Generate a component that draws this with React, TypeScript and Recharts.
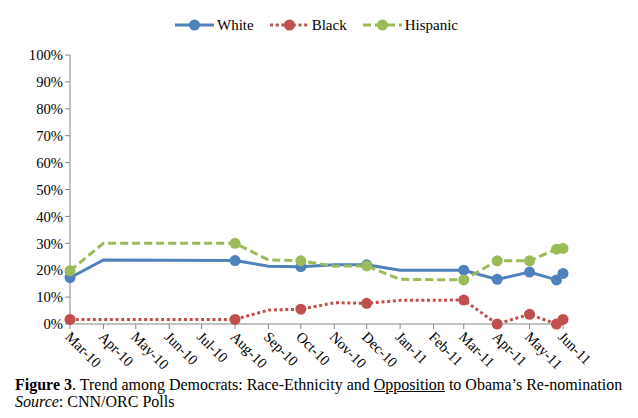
import React from "react";
import { LineChart, Line, XAxis, YAxis, Legend } from "recharts";

const pollDates = [
  "2010-03-01", "2010-04-01", "2010-08-01", "2010-09-01", "2010-10-01", "2010-11-01",
  "2010-12-01", "2011-01-01", "2011-03-01", "2011-04-01", "2011-05-01", "2011-05-26", "2011-06-01",
];
const hasMarker = [true, false, true, false, true, false, true, false, true, true, true, true, true];
const white = [17.2, 23.8, 23.6, 21.5, 21.3, 22, 22, 20, 20, 16.6, 19.3, 16.4, 18.8];
const black = [1.7, 1.7, 1.7, 5.2, 5.5, 7.9, 7.7, 8.8, 8.9, 0, 3.6, 0, 1.7];
const hispanic = [19.8, 30, 30, 23.8, 23.5, 21.5, 21.6, 16.6, 16.4, 23.5, 23.5, 27.8, 28.1];

const monthTicks = [
  "2010-03-01", "2010-04-01", "2010-05-01", "2010-06-01", "2010-07-01", "2010-08-01",
  "2010-09-01", "2010-10-01", "2010-11-01", "2010-12-01", "2011-01-01", "2011-02-01",
  "2011-03-01", "2011-04-01", "2011-05-01", "2011-06-01",
];
const monthLabels = [
  "Mar-10", "Apr-10", "May-10", "Jun-10", "Jul-10", "Aug-10", "Sep-10", "Oct-10",
  "Nov-10", "Dec-10", "Jan-11", "Feb-11", "Mar-11", "Apr-11", "May-11", "Jun-11",
];
const yTicks = [0, 10, 20, 30, 40, 50, 60, 70, 80, 90, 100];

const FONT = "'Liberation Serif', 'Times New Roman', serif";
const AXIS = "#868686";

const day = (s: string) => {
  const [y, m, d] = s.split("-").map(Number);
  return Date.UTC(y, m - 1, d) / 86400000;
};

const tickDays = monthTicks.map(day);

const data = pollDates.map((d, i) => ({
  t: day(d),
  marked: hasMarker[i],
  white: white[i],
  black: black[i],
  hispanic: hispanic[i],
}));

const series = [
  { key: "white", name: "White", color: "#4F81BD", dash: undefined as string | undefined },
  { key: "black", name: "Black", color: "#C0504D", dash: "3 2.7" },
  { key: "hispanic", name: "Hispanic", color: "#9BBB59", dash: "8 4" },
];

const makeDot = (color: string) => (props: any) => {
  const { cx, cy, payload, index } = props;
  if (!payload.marked) return <g key={`d${index}`} />;
  return <circle key={`d${index}`} cx={cx} cy={cy} r={5.5} fill={color} stroke="none" />;
};

const XTick = ({ x, y, payload }: any) => {
  const idx = tickDays.indexOf(payload.value);
  return (
    <g transform={`translate(${x - 2},${y + 3})`}>
      <text
        transform="rotate(45)"
        textAnchor="start"
        dy="0.35em"
        fontFamily={FONT}
        fontSize={14.67}
        fill="#000"
      >
        {monthLabels[idx]}
      </text>
    </g>
  );
};

const LegendContent = () => (
  <div style={{ display: "flex", justifyContent: "center", alignItems: "center", fontFamily: FONT, fontSize: 15, height: 20 }}>
    {series.map((s, i) => (
      <div key={s.key} style={{ display: "flex", alignItems: "center", marginLeft: i === 0 ? 0 : 16 }}>
        <svg width={39} height={12} style={{ marginRight: 3 }}>
          <line x1={0} y1={6} x2={39} y2={6} stroke={s.color} strokeWidth={3} strokeDasharray={s.dash} />
          <circle cx={19.5} cy={6} r={5.5} fill={s.color} />
        </svg>
        <span style={{ color: "#000" }}>{s.name}</span>
      </div>
    ))}
  </div>
);

export default function App() {
  return (
    <div style={{ position: "absolute", left: 0, top: 0, width: 638, height: 418, background: "#fff" }}>
      <LineChart width={638} height={380} data={data} margin={{ top: 15, right: 75, left: 0, bottom: 0 }}>
        <Legend verticalAlign="top" height={40} wrapperStyle={{ left: 70, width: 493 }} content={<LegendContent />} />
        <XAxis
          dataKey="t"
          type="number"
          domain={[tickDays[0], tickDays[tickDays.length - 1]]}
          ticks={tickDays}
          interval={0}
          height={56}
          stroke={AXIS}
          tickSize={5}
          tick={<XTick />}
        />
        <YAxis
          type="number"
          domain={[0, 100]}
          ticks={yTicks}
          interval={0}
          width={70}
          stroke={AXIS}
          tickSize={5}
          tickFormatter={(v) => `${v}%`}
          tick={{ fill: "#000", fontFamily: FONT, fontSize: 14.67 }}
        />
        {series.map((s) => (
          <Line
            key={s.key}
            type="linear"
            dataKey={s.key}
            name={s.name}
            stroke={s.color}
            strokeWidth={3}
            strokeDasharray={s.dash}
            dot={makeDot(s.color)}
            activeDot={false}
            isAnimationActive={false}
          />
        ))}
      </LineChart>
      <div style={{ position: "absolute", top: 376, left: 0, fontFamily: FONT, fontSize: 16, lineHeight: "17px", color: "#000", paddingLeft: 15, whiteSpace: "nowrap" }}>
        <div>
          <b>Figure 3</b>. Trend among Democrats: Race-Ethnicity and <u>Opposition</u> to Obama’s Re-nomination
        </div>
        <div>
          <i>Source</i>: CNN/ORC Polls
        </div>
      </div>
    </div>
  );
}
